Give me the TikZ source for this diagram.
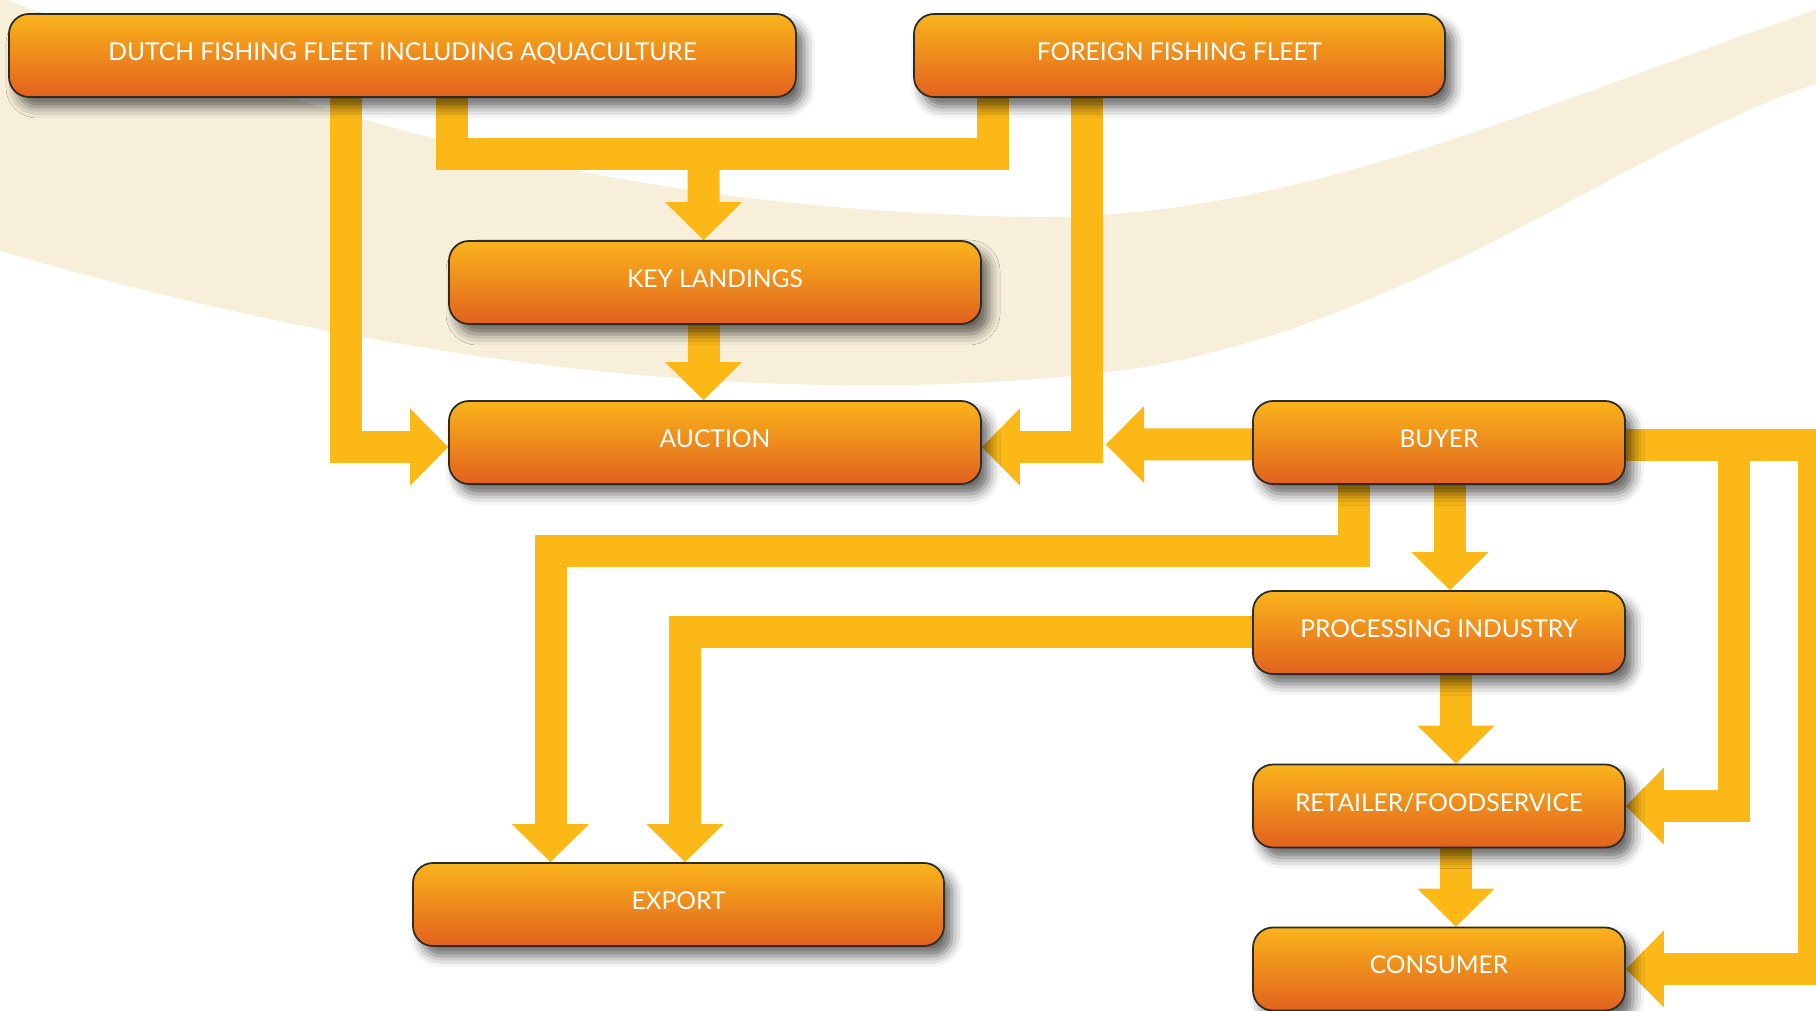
\documentclass[tikz,border=0pt]{standalone}
\usepackage{fontspec}
\setmainfont{Lato}
\usepackage{tikz}
\usetikzlibrary{arrows.meta,positioning,shadows.blur}
\definecolor{boxtop}{HTML}{F9B41B}
\definecolor{boxbot}{HTML}{E2611E}
\definecolor{flowc}{HTML}{FBB817}
\definecolor{swooshc}{HTML}{F8EFDA}
\definecolor{edge}{HTML}{2E2A25}
\pgfdeclarelayer{back}
\pgfdeclarelayer{arrows}
\pgfsetlayers{back,arrows,main}

\begin{document}
\begin{tikzpicture}[
  box/.style={rectangle, draw=edge, line width=0.5pt, rounded corners=2mm, top color=boxtop, bottom color=boxbot, minimum width=5.31cm, minimum height=0.83cm, inner sep=0pt, text depth=0.8mm, text=white, font=\fontsize{7}{8}\selectfont, blur shadow={shadow xshift=0.8mm, shadow yshift=-1mm, shadow blur radius=1.1mm, shadow opacity=60}},
  flow/.style={draw=flowc, line width=3.2mm, -{Triangle[width=7.7mm, length=3.8mm, line width=0pt]}},
  feed/.style={draw=flowc, line width=3.2mm}
]
\useasboundingbox (0,0) rectangle (18.16,-10.11);

% Fleets
\node[box, minimum width=7.87cm] (dutch) at (4.025,-0.555) {DUTCH FISHING FLEET INCLUDING AQUACULTURE};
\node[box] (foreign) at (11.795,-0.555) {FOREIGN FISHING FLEET};

% Landings and auction
\node[box, minimum width=5.32cm] (landings) at (7.15,-2.825) {KEY LANDINGS};
\node[box, minimum width=5.32cm] (auction) at (7.15,-4.425) {AUCTION};

% Chain on the right
\node[box, minimum width=3.72cm] (buyer) at (14.39,-4.425) {BUYER};
\node[box, minimum width=3.72cm] (processing) at (14.39,-6.325) {PROCESSING INDUSTRY};
\node[box, minimum width=3.72cm] (retailer) at (14.39,-8.06) {RETAILER/FOODSERVICE};
\node[box, minimum width=3.72cm] (consumer) at (14.39,-9.69) {CONSUMER};

% Export
\node[box] (export) at (6.785,-9.045) {EXPORT};

% Background swoosh (after the shadows, so it stays on its layer)
\begin{pgfonlayer}{back}
\fill[swooshc] (-0.2,0.1) .. controls (3,-1.1) and (6,-2.1) .. (10.3,-2.17)
  .. controls (13,-2.2) and (15.5,-1.0) .. (18.3,-0.05) -- (18.3,-0.8)
  .. controls (16.5,-1.3) and (14.0,-3.4) .. (11.0,-3.73)
  .. controls (8.3,-4.03) and (4.5,-3.85) .. (-0.2,-2.45) -- cycle;
\end{pgfonlayer}

\begin{pgfonlayer}{arrows}
\draw[flow] ([xshift=-5.65mm]dutch.south) |- ([yshift=-0.45mm]auction.west);
\coordinate (merge) at (7.035,-1.54);
\draw[feed] ([xshift=4.9mm]dutch.south) |- (merge) -| ([xshift=-18.7mm]foreign.south);
\draw[flow] (merge) -- ([xshift=-1.15mm]landings.north);
\draw[flow] ([xshift=-1.15mm]landings.south) -- ([xshift=-1.15mm]auction.north);
\draw[flow] ([xshift=-9.25mm]foreign.south) |- ([yshift=-0.45mm]auction.east);

\coordinate (bidtip) at (11.06,-4.445);
\draw[flow] ([yshift=-0.2mm]buyer.west) -- (bidtip);
\draw[flow] ([xshift=-8.5mm]buyer.south) -- ++(0,-0.66) -| ([xshift=-12.8mm]export.north);
\draw[flow] ([xshift=1.1mm]buyer.south) -- ([xshift=1.1mm]processing.north);
\draw[flow] (processing.west) -| ([xshift=0.65mm]export.north);
\draw[flow] ([xshift=1.7mm]processing.south) -- ([xshift=1.7mm]retailer.north);
\draw[flow] ([xshift=1.7mm]retailer.south) -- ([xshift=1.7mm]consumer.north);
\draw[flow] ([yshift=-0.25mm]buyer.east) -- ++(1.08,0) |- (retailer.east);
\draw[flow] ([yshift=-0.25mm]buyer.east) -- ++(1.88,0) |- (consumer.east);
\end{pgfonlayer}

\end{tikzpicture}
\end{document}
